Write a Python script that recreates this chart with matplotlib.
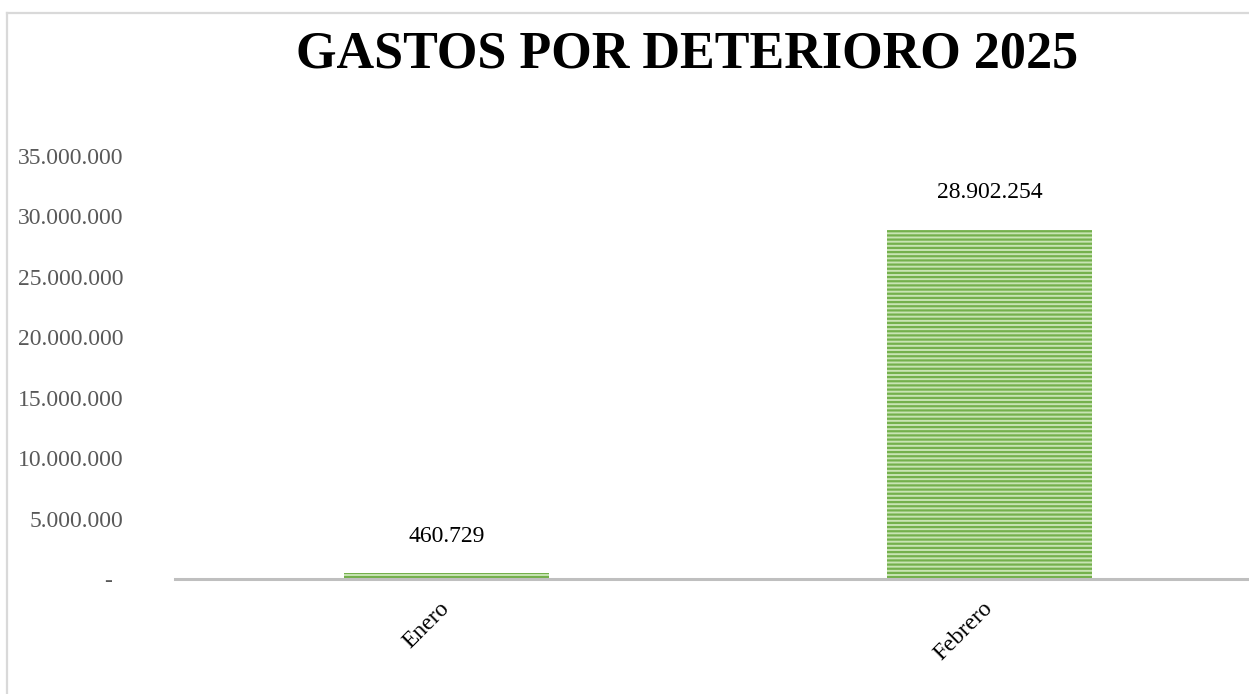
import matplotlib
matplotlib.use("Agg")
import matplotlib.pyplot as plt
import matplotlib.transforms as mtransforms
from matplotlib.lines import Line2D

categories = ["Enero", "Febrero"]
values = [460729, 28902254]
yticks = [0, 5000000, 10000000, 15000000, 20000000, 25000000, 30000000, 35000000]
title = "GASTOS POR DETERIORO 2025"

def fmt(v):
    if v == 0:
        return "-"
    return f"{v:,.0f}".replace(",", ".")

plt.rcParams['font.family'] = ['Liberation Serif', 'DejaVu Serif']
plt.rcParams['hatch.linewidth'] = 1.6

W, H = 1249, 694
fig = plt.figure(figsize=(W / 100, H / 100), dpi=100)

# outer chart border (left and top visible)
fig.add_artist(Line2D([7 / W, 7 / W], [0, 1 - 13 / H], transform=fig.transFigure, color="#D9D9D9", lw=1.6))
fig.add_artist(Line2D([7 / W, 1.0], [1 - 13 / H, 1 - 13 / H], transform=fig.transFigure, color="#D9D9D9", lw=1.6))

left, right = 175, 1261
bottom_px, top_px = 579, 156
ax = fig.add_axes([left / W, 1 - bottom_px / H, (right - left) / W, (bottom_px - top_px) / H])

x = list(range(len(categories)))
bars = ax.bar(x, values, width=0.378, color="#C8E4B3", edgecolor="#74B04C", hatch="----", linewidth=0)

ax.set_xlim(-0.5, 1.5)
ax.set_ylim(0, 35000000)
ax.set_yticks(yticks)
ax.set_yticklabels([fmt(v) for v in yticks], fontsize=17, color="#595959")
ax.set_xticks(x)
ax.set_xticklabels(categories, rotation=45, ha="right", va="center", rotation_mode="anchor", fontsize=17, color="black")
ax.tick_params(axis="both", length=0)
ax.tick_params(axis="y", pad=37)
ax.tick_params(axis="x", pad=19)
zero_lbl = ax.get_yticklabels()[0]
zero_lbl.set_transform(zero_lbl.get_transform() + mtransforms.ScaledTranslation(-12 / 100, 0, fig.dpi_scale_trans))

for s in ["top", "right", "left"]:
    ax.spines[s].set_visible(False)
ax.spines["bottom"].set_color("#BFBFBF")
ax.spines["bottom"].set_linewidth(2.2)
ax.patch.set_alpha(0)

for xi, v in zip(x, values):
    ax.annotate(fmt(v), (xi, v), xytext=(0, 19), textcoords="offset points", ha="center", va="bottom", fontsize=17, color="black")

fig.text(687 / W, 1 - 54 / H, title, ha="center", va="center", fontsize=37.5, fontweight="bold", color="black")

fig.savefig("out.png", dpi=100)
